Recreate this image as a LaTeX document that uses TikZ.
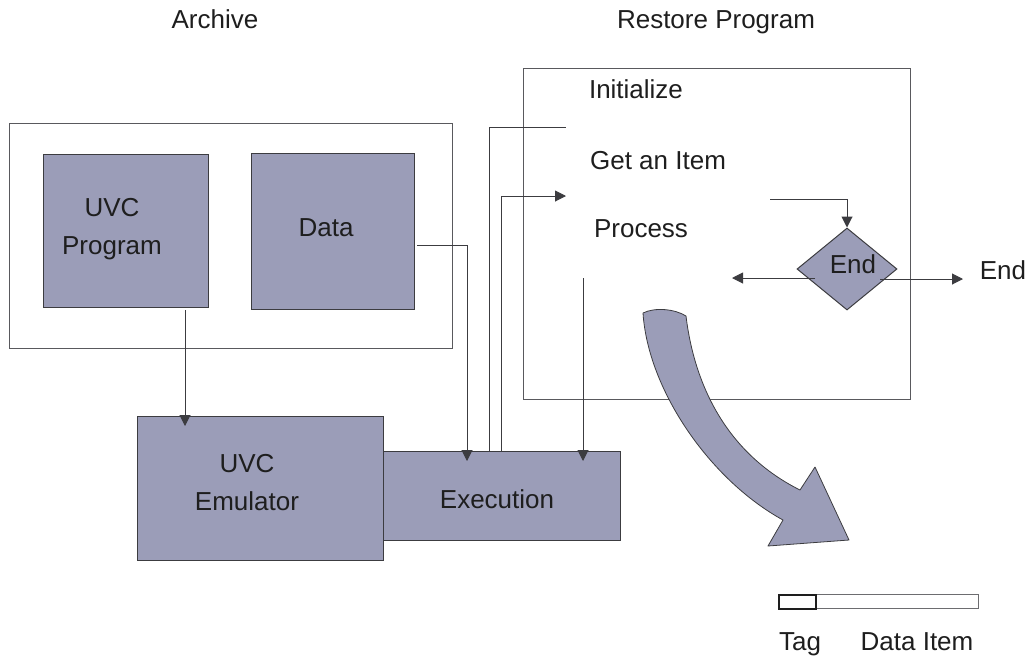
\documentclass[tikz,border=0pt]{standalone}
\usepackage{fontspec}
\setmainfont{Liberation Sans}
\usetikzlibrary{arrows.meta,shapes.geometric,calc}
\definecolor{boxfill}{RGB}{155,157,184}
\definecolor{edge}{RGB}{60,60,64}
\definecolor{ink}{RGB}{30,30,30}
\begin{document}
\begin{tikzpicture}[x=1pt,y=-1pt,
  every node/.style={font=\fontsize{26}{38}\selectfont, text=ink},
  frame/.style={draw=edge!85, line width=1.3pt, inner sep=0pt, anchor=north west},
  block/.style={draw=edge, fill=boxfill, line width=1.3pt, inner sep=0pt, anchor=north west},
  txt/.style={align=center, inner sep=0pt},
  wire/.style={draw=edge, line width=1pt},
  arr/.style={wire, -{Triangle[length=11pt,width=11pt]}},
  intobox/.style={arr, shorten >=-10pt}]
\useasboundingbox (0,0) rectangle (1030,657);

% titles
\node[txt, anchor=base] (archivelbl) at (215,28) {Archive};
\node[txt, anchor=base] (restorelbl) at (716,28) {Restore Program};

% archive with its two parts
\node[frame, minimum width=443pt, minimum height=225pt] (archive) at (9,123) {};
\node[block, minimum width=165pt, minimum height=153pt] (prog) at (43,154) {};
\node[block, minimum width=163pt, minimum height=156pt] (data) at (251,153) {};
\node[txt] (progtxt) at (112,229) {UVC\\Program};
\node[txt, anchor=base] (datatxt) at (326,236) {Data};

% emulator and execution
\node[block, minimum width=246pt, minimum height=144pt] (emu) at (137,416) {};
\node[block, minimum width=237pt, minimum height=89pt] (exec) at (383,451) {};
\node[txt] (emutxt) at (247,483) {UVC\\Emulator};
\node[txt, anchor=base] (exectxt) at (497,508) {Execution};

% restore program
\node[frame, minimum width=387pt, minimum height=331pt] (restore) at (523,68) {};
\node[txt, anchor=base] (init) at (636,98) {Initialize};
\node[txt, anchor=base] (getitem) at (658,169) {Get an Item};
\node[txt, anchor=base] (process) at (641,237) {Process};

% end test
\node[diamond, draw=edge, fill=boxfill, line width=1pt, inner sep=0pt,
      minimum width=100pt, minimum height=82pt] (dec) at (847,269) {};
\node[txt, anchor=base] (dectxt) at (853,273) {End};
\node[txt, anchor=base] (endout) at (1003,279) {End};

% connectors
\coordinate (progout) at (185,310);
\draw[intobox] (progout) -- (progout |- emu.north);

\coordinate (dataout) at (417,245);
\draw[intobox] (dataout) -| ([xshift=84pt]exec.north west);

\coordinate (initin) at (566,127);
\draw[wire] ([xshift=106pt]exec.north west) |- (initin);

\coordinate (procin) at (566,196);
\draw[arr] ([xshift=118pt]exec.north west) |- (procin);

\coordinate (procout) at (583,278);
\draw[intobox] (procout) -- (procout |- exec.north);

\coordinate (getout) at (770,199);
\draw[arr] (getout) -| (dec.north);

\coordinate (decleft) at (815,278);
\coordinate (loopback) at (732,278);
\draw[arr] (decleft) -- (loopback);

\coordinate (decright) at (880,279);
\coordinate (exitpt) at (963,279);
\draw[arr] (decright) -- (exitpt);

% big curved arrow
\draw[draw=edge, line width=0.8pt, fill=boxfill, line join=round]
  (643,313) .. controls (655,307) and (675,309) .. (686,316)
  .. controls (695,390) and (730,455) .. (800,490)
  -- (815,467) -- (849,540) -- (768,546) -- (783,520)
  .. controls (710,480) and (648,390) .. (643,313) -- cycle;

% tag / data item record
\node[draw=edge!75, line width=0.9pt, minimum width=200pt, minimum height=14pt,
      inner sep=0pt, anchor=north west] (bar) at (778,594) {};
\node[draw=ink, line width=1.7pt, minimum width=37pt, minimum height=14pt,
      inner sep=0pt, anchor=north west] (tag) at (778,594) {};
\node[txt, anchor=base] (taglbl) at (800,650) {Tag};
\node[txt, anchor=base] (itemlbl) at (917,650) {Data Item};
\end{tikzpicture}
\end{document}
